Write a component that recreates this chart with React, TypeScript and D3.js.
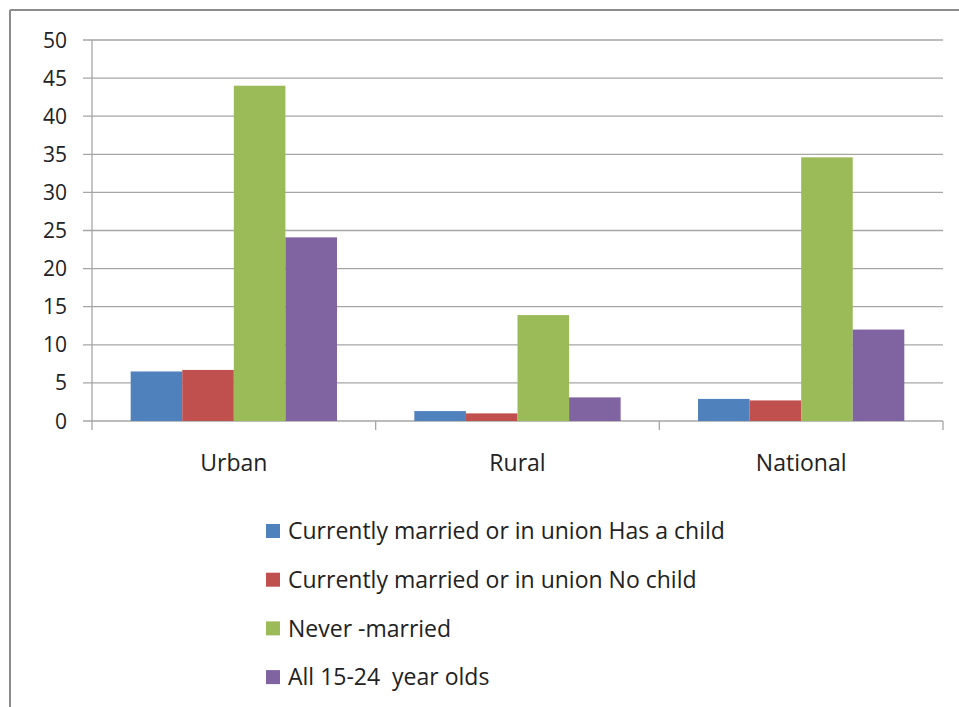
import React from "react";
import * as d3 from "d3";

const categories = ["Urban", "Rural", "National"];
const seriesNames = [
  "Currently married or in union Has a child",
  "Currently married or in union No child",
  "Never -married",
  "All 15-24  year olds",
];
const hasChild = [6.5, 1.3, 2.9];
const noChild = [6.7, 1.0, 2.7];
const neverMarried = [44.0, 13.9, 34.6];
const allYouth = [24.1, 3.1, 12.0];
const yTicks = [0, 5, 10, 15, 20, 25, 30, 35, 40, 45, 50];
const colors = ["#4F81BD", "#C0504D", "#9BBB59", "#8064A2"];

const seriesValues = [hasChild, noChild, neverMarried, allYouth];

export default function App() {
  const W = 959, H = 707;
  const left = 92, right = 943, top = 40, bottom = 421;
  const font = "'Open Sans', sans-serif";
  const x0 = d3.scaleBand<string>().domain(categories).range([left, right]).paddingInner(0).paddingOuter(0);
  const inner = x0.bandwidth() * (4 / 5.5);
  const x1 = d3.scaleBand<number>().domain([0, 1, 2, 3]).range([0, inner]);
  const y = d3.scaleLinear().domain([0, 50]).range([bottom, top]);
  const off = (x0.bandwidth() - inner) / 2;

  return (
    <svg width={W} height={H} style={{ position: "absolute", left: 0, top: 0, background: "#fff" }}>
      <rect x={0} y={0} width={W} height={H} fill="#fff" />
      <line x1={10} y1={10} x2={W} y2={10} stroke="#8c8c8c" strokeWidth={2} />
      <line x1={10} y1={10} x2={10} y2={H} stroke="#8c8c8c" strokeWidth={2} />
      {yTicks.map((t) => (
        <g key={t}>
          <line x1={left - 9} x2={right} y1={y(t)} y2={y(t)} stroke="#a6a6a6" strokeWidth={1.3} />
          <text x={67} y={y(t)} dy="0.36em" textAnchor="end" fontFamily={font} fontSize={21} fill="#222">
            {t}
          </text>
        </g>
      ))}
      <line x1={left} x2={left} y1={top} y2={bottom + 9} stroke="#a6a6a6" strokeWidth={1.3} />
      {categories.map((c) => (
        <line key={"tk" + c} x1={x0(c)! + x0.bandwidth()} x2={x0(c)! + x0.bandwidth()} y1={bottom} y2={bottom + 9} stroke="#a6a6a6" strokeWidth={1.3} />
      ))}
      {categories.map((c, ci) =>
        seriesValues.map((vals, si) => (
          <rect
            key={c + si}
            x={x0(c)! + off + x1(si)!}
            y={y(vals[ci])}
            width={x1.bandwidth()}
            height={bottom - y(vals[ci])}
            fill={colors[si]}
          />
        ))
      )}
      {categories.map((c) => (
        <text key={"l" + c} x={x0(c)! + x0.bandwidth() / 2} y={463} dy="0.36em" textAnchor="middle" fontFamily={font} fontSize={23} fill="#222">
          {c}
        </text>
      ))}
      {seriesNames.map((s, i) => (
        <g key={s} transform={`translate(266, ${531 + i * 48.7})`}>
          <rect x={0} y={-7} width={14} height={14} fill={colors[i]} />
          <text x={22} y={0} dy="0.36em" fontFamily={font} fontSize={23} fill="#222" style={{ whiteSpace: "pre" }}>
            {s}
          </text>
        </g>
      ))}
    </svg>
  );
}
